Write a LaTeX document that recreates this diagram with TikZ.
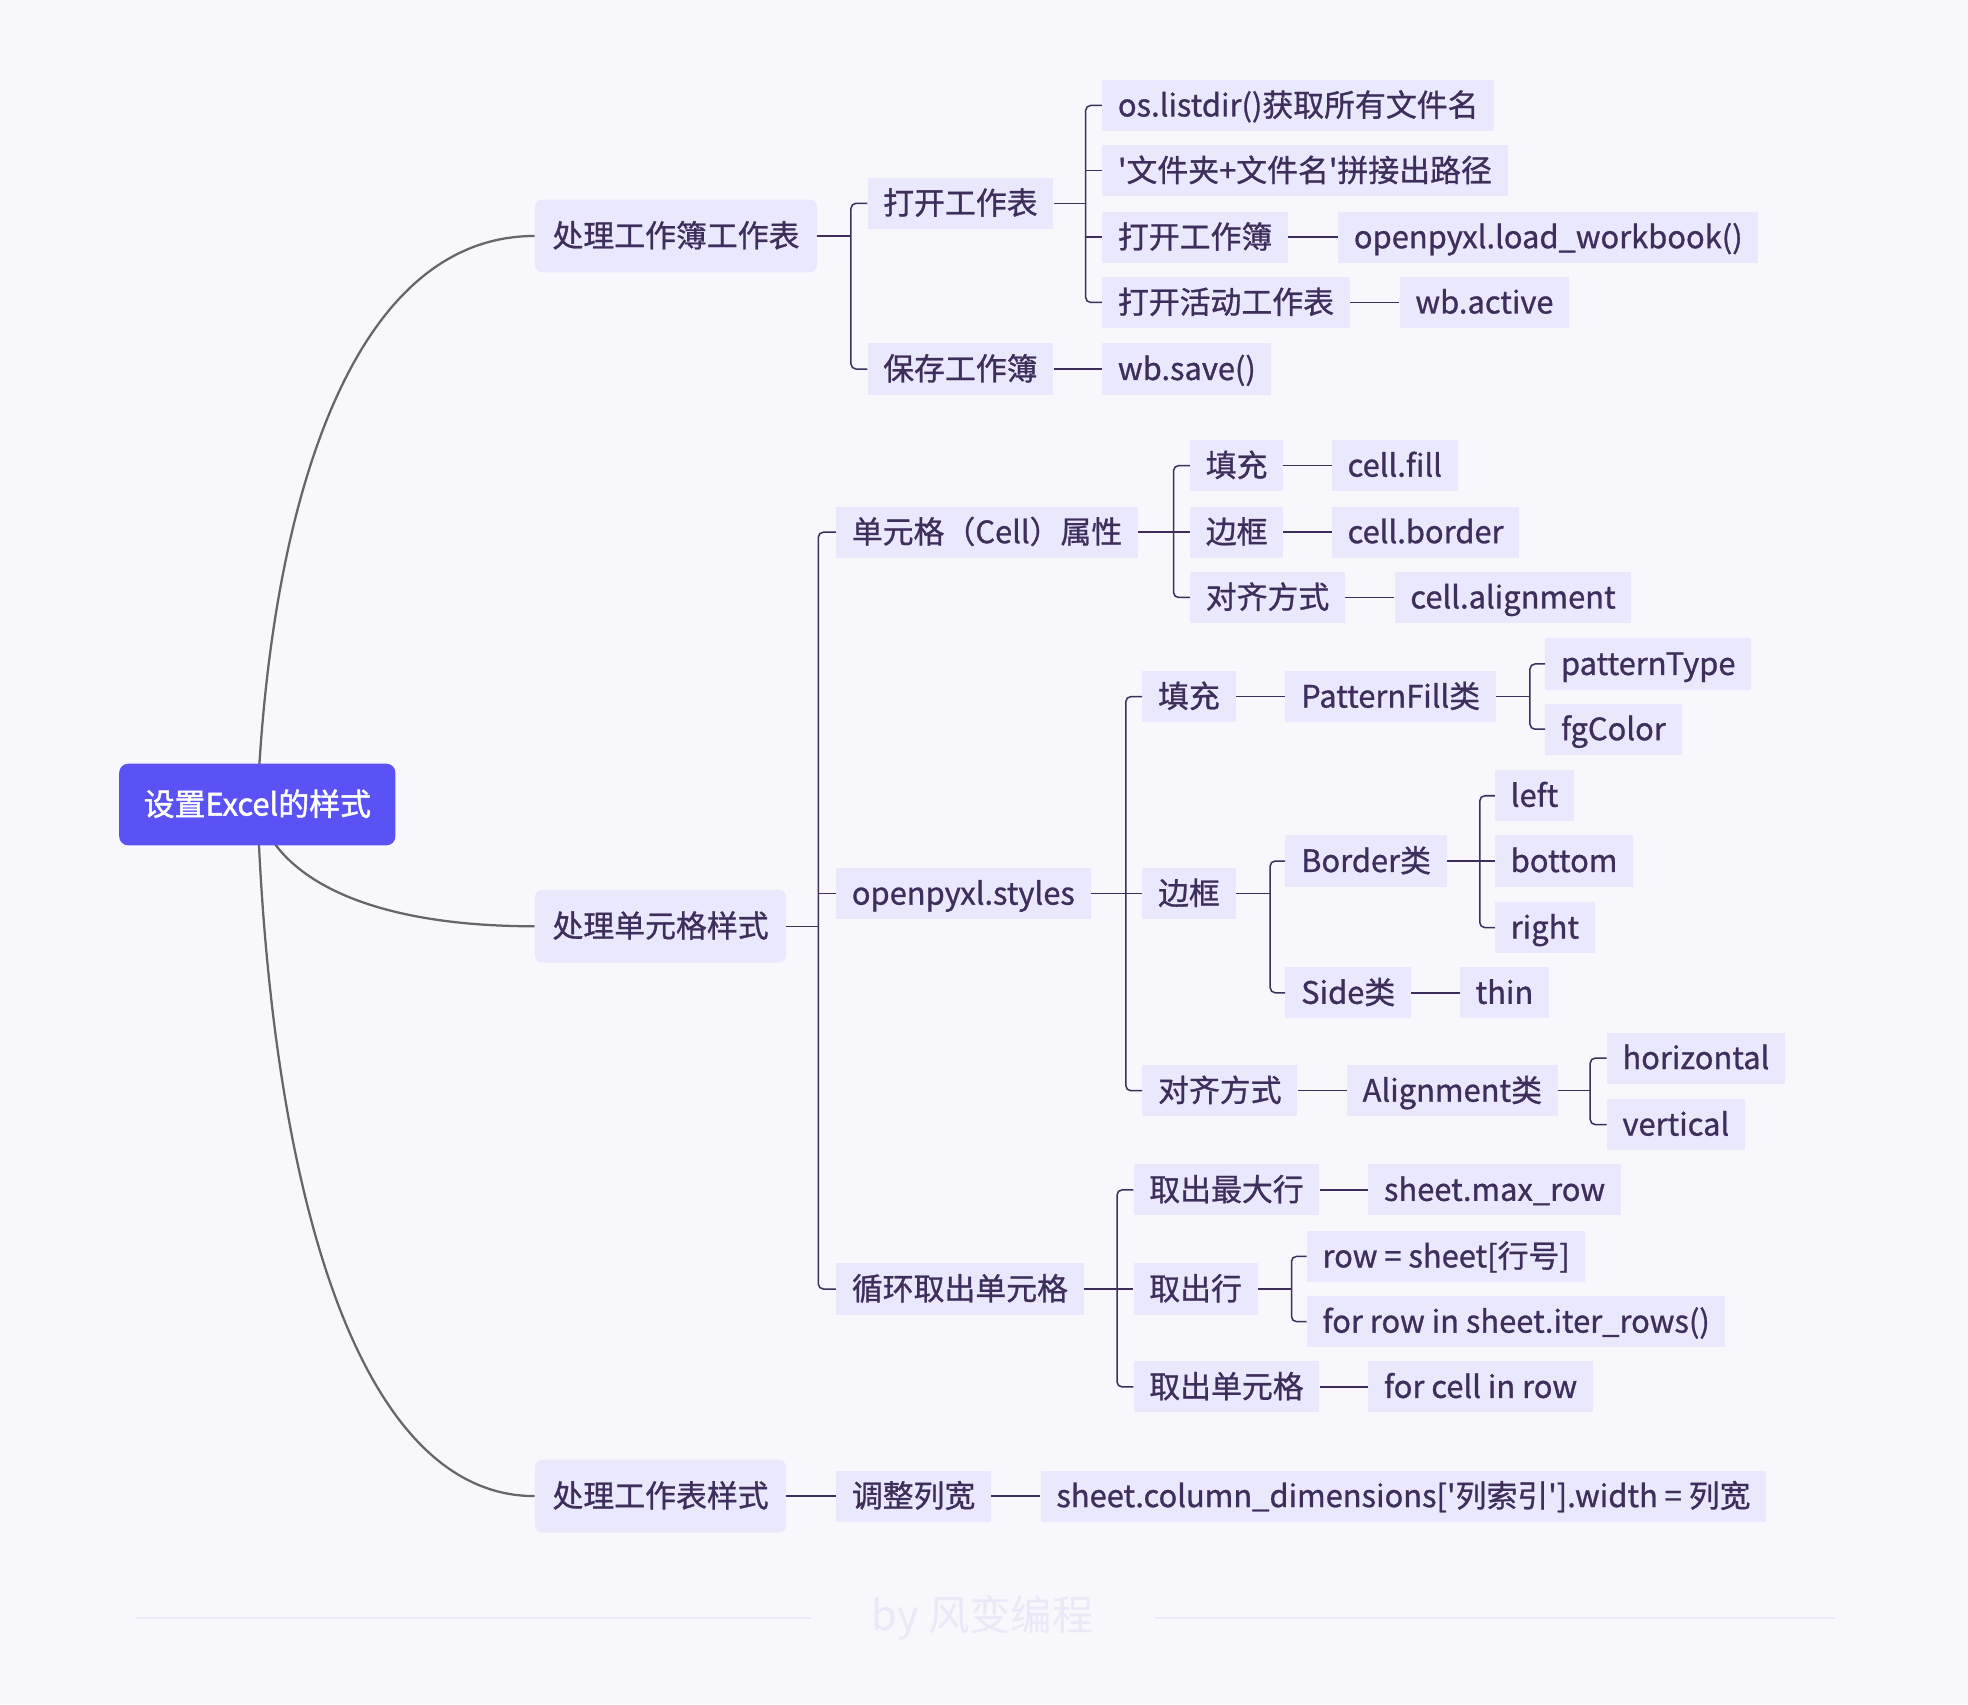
\documentclass[tikz,border=0pt]{standalone}
\usepackage{fontspec}
\setmainfont{Noto Sans CJK SC}[FakeBold=0.9]
\newfontfamily\rootfont{Noto Sans CJK SC}[FakeBold=1.5]
\newfontfamily\sigfont{Noto Sans CJK SC}
\usetikzlibrary{backgrounds}

\definecolor{bgcol}{HTML}{F7F7FC}
\definecolor{rootblue}{HTML}{5B52F6}
\definecolor{nodefill}{HTML}{EAE8FC}
\definecolor{ink}{HTML}{3D2E5C}
\definecolor{trunkgray}{HTML}{666666}
\definecolor{marklight}{HTML}{E9E9F8}

\newcommand{\fs}[1]{\fontsize{#1}{#1}\selectfont}
% parent, spine x, first child, last child, middle children
\newcommand{\fork}[5]{%
  \draw[link] (#1.east) -- (#2,0 |- #1.east);
  \draw[link, rounded corners=4pt] (#3.west) -- (#2,0 |- #3.west) -- (#2,0 |- #4.west) -- (#4.west);
  \if\relax\detokenize{#5}\relax\else
    \foreach \c in {#5} \draw[link] (#2,0 |- \c.west) -- (\c.west);
  \fi}

\begin{document}
\begin{tikzpicture}[x=1pt, y=-1pt,
    rootbox/.style={fill=rootblue, text=white, rounded corners=7pt, minimum height=65pt,
      minimum width=220pt, font=\rootfont\fs{24.6}, text height=21pt, text depth=3.5pt},
    topic/.style={fill=nodefill, text=ink, rounded corners=6pt, minimum height=58pt,
      inner xsep=14pt, anchor=west, font=\fs{24.6}, text height=21pt, text depth=3.5pt},
    leaf/.style={fill=nodefill, text=ink, minimum height=40.7pt, inner xsep=12.5pt,
      anchor=west, font=\fs{24.6}, text height=21pt, text depth=3.5pt},
    link/.style={draw=ink, line width=1.2pt},
    trunk/.style={draw=trunkgray, line width=1.8pt},
    sigline/.style={draw=marklight, line width=1.2pt}]
  \useasboundingbox (0,0) rectangle (1568,1358);

  % Wurzel
  \node[rootbox] (root) at (205,641) {设置Excel的样式};

  % Ast 1
  \node[topic] (wbk) at (426,188) {处理工作簿工作表};
  \node[leaf] (openws) at (691,162) {打开工作表};
  \node[leaf] (savewb) at (691,294) {保存工作簿};
  \node[leaf] (listdir) at (878,84) {os.listdir()获取所有文件名};
  \node[leaf] (joinpath) at (878,136) {\textquotesingle 文件夹+文件名\textquotesingle 拼接出路径};
  \node[leaf] (openwb) at (878,189) {打开工作簿};
  \node[leaf] (loadwb) at (1066,189) {openpyxl.load\_workbook()};
  \node[leaf] (openact) at (878,241) {打开活动工作表};
  \node[leaf] (wbactive) at (1115,241) {wb.active};
  \node[leaf] (wbsave) at (878,294) {wb.save()};

  % Ast 2
  \node[topic] (cellsty) at (426,738) {处理单元格样式};
  \node[leaf] (cellattr) at (666,424) {单元格（Cell）属性};
  \node[leaf] (fillA) at (948,371) {填充};
  \node[leaf] (fillAc) at (1061,371) {cell.fill};
  \node[leaf] (borderA) at (948,424) {边框};
  \node[leaf] (borderAc) at (1061,424) {cell.border};
  \node[leaf] (alignA) at (948,476) {对齐方式};
  \node[leaf] (alignAc) at (1111,476) {cell.alignment};
  \node[leaf] (styles) at (666,712) {openpyxl.styles};
  \node[leaf] (fillB) at (910,555) {填充};
  \node[leaf] (patfill) at (1024,555) {PatternFill类};
  \node[leaf] (pattype) at (1231,529) {patternType};
  \node[leaf] (fgcolor) at (1231,581) {fgColor};
  \node[leaf] (borderB) at (910,712) {边框};
  \node[leaf] (bordercls) at (1024,686) {Border类};
  \node[leaf] (bleft) at (1191,634) {left};
  \node[leaf] (bbottom) at (1191,686) {bottom};
  \node[leaf] (bright) at (1191,739) {right};
  \node[leaf] (sidecls) at (1024,791) {Side类};
  \node[leaf] (thin) at (1163,791) {thin};
  \node[leaf] (alignB) at (910,869) {对齐方式};
  \node[leaf] (aligncls) at (1073,869) {Alignment类};
  \node[leaf] (horiz) at (1280,843) {horizontal};
  \node[leaf] (vert) at (1280,896) {vertical};
  \node[leaf] (loopcell) at (666,1027) {循环取出单元格};
  \node[leaf] (maxrowq) at (903,948) {取出最大行};
  \node[leaf] (maxrow) at (1090,948) {sheet.max\_row};
  \node[leaf] (getrow) at (903,1027) {取出行};
  \node[leaf] (rowsheet) at (1041,1001) {row = sheet[行号]};
  \node[leaf] (iterrows) at (1041,1053) {for row in sheet.iter\_rows()};
  \node[leaf] (getcell) at (903,1105) {取出单元格};
  \node[leaf] (forcell) at (1090,1105) {for cell in row};

  % Ast 3
  \node[topic] (shtsty) at (426,1192) {处理工作表样式};
  \node[leaf] (colw) at (666,1192) {调整列宽};
  \node[leaf] (coldim) at (829,1192) {sheet.column\_dimensions[\textquotesingle 列索引\textquotesingle].width = 列宽};

  % Hintergrund und Kurven von der Wurzel
  \begin{scope}[on background layer]
    \fill[bgcol] (0,0) rectangle (1568,1358);
    \draw[trunk] (root.center) .. controls +(10,-240) and +(-146,0) .. (wbk.west);
    \draw[trunk] (root.center) .. controls +(10,51) and +(-146,0) .. (cellsty.west);
    \draw[trunk] (root.center) .. controls +(10,292) and +(-146,0) .. (shtsty.west);
  \end{scope}

  % Verbindungen
  \fork{wbk}{678}{openws}{savewb}{}
  \fork{openws}{865}{listdir}{openact}{joinpath,openwb}
  \fork{cellsty}{652}{cellattr}{loopcell}{styles}
  \fork{cellattr}{935}{fillA}{alignA}{borderA}
  \fork{styles}{897}{fillB}{alignB}{borderB}
  \fork{patfill}{1219}{pattype}{fgcolor}{}
  \fork{borderB}{1012}{bordercls}{sidecls}{}
  \fork{bordercls}{1179}{bleft}{bright}{bbottom}
  \fork{aligncls}{1267}{horiz}{vert}{}
  \fork{loopcell}{890}{maxrowq}{getcell}{getrow}
  \fork{getrow}{1029}{rowsheet}{iterrows}{}
  \foreach \a/\b in {openwb/loadwb, openact/wbactive, savewb/wbsave, fillA/fillAc,
      borderA/borderAc, alignA/alignAc, fillB/patfill, sidecls/thin, alignB/aligncls,
      maxrowq/maxrow, getcell/forcell, shtsty/colw, colw/coldim}
    \draw[link] (\a.east) -- (\b.west);

  % Signatur
  \node[font=\sigfont\fs{33}, text=marklight] (sig) at (783,1289) {by 风变编程};
  \draw[sigline] (108,1289) -- ([xshift=-45pt]sig.west);
  \draw[sigline] ([xshift=45pt]sig.east) -- (1462,1289);
\end{tikzpicture}
\end{document}
